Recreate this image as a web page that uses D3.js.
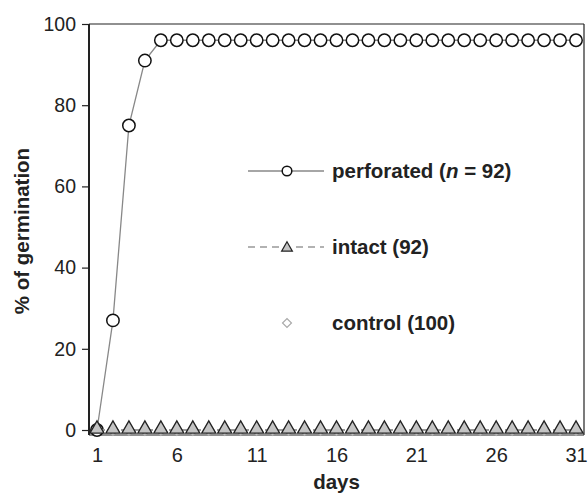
<!DOCTYPE html>
<html>
<head>
<meta charset="utf-8">
<script src="https://cdn.jsdelivr.net/npm/d3@7"></script>
<style>
  body { margin: 0; background: #fff; }
  svg { font-family: "Liberation Sans", Arial, sans-serif; }
</style>
</head>
<body>
<div id="chart"></div>
<script>
// days 1..31
var days = [1, 2, 3, 4, 5, 6, 7, 8, 9, 10, 11, 12, 13, 14, 15, 16,
            17, 18, 19, 20, 21, 22, 23, 24, 25, 26, 27, 28, 29, 30, 31];
var perforated = [0, 27, 75, 91, 96, 96, 96, 96, 96, 96, 96, 96, 96, 96, 96, 96,
                  96, 96, 96, 96, 96, 96, 96, 96, 96, 96, 96, 96, 96, 96, 96];
var intact = [0, 0, 0, 0, 0, 0, 0, 0, 0, 0, 0, 0, 0, 0, 0, 0,
              0, 0, 0, 0, 0, 0, 0, 0, 0, 0, 0, 0, 0, 0, 0];
var control = [0, 0, 0, 0, 0, 0, 0, 0, 0, 0, 0, 0, 0, 0, 0, 0,
               0, 0, 0, 0, 0, 0, 0, 0, 0, 0, 0, 0, 0, 0, 0];
var xTicks = [1, 6, 11, 16, 21, 26, 31];
var yTicks = [0, 20, 40, 60, 80, 100];

(function() {
	var W = 588, H = 493;
	var pl = 89, pr = 584, pt = 24, pb = 435;

	var x = d3.scaleLinear().domain([0.5, 31.5]).range([pl, pr]);
	var y = d3.scaleLinear().domain([-1.23, 100]).range([pb, pt]);

	var svg = d3.select("#chart").append("svg")
		.attr("width", W)
		.attr("height", H);

	// frame: top, right, bottom thin; left axis thicker
	svg.append("line").attr("x1", pl).attr("x2", pr).attr("y1", pt).attr("y2", pt)
		.attr("stroke", "#222").attr("stroke-width", 1.2);
	svg.append("line").attr("x1", pr).attr("x2", pr).attr("y1", pt).attr("y2", pb)
		.attr("stroke", "#222").attr("stroke-width", 1.2);
	svg.append("line").attr("x1", pl).attr("x2", pr).attr("y1", pb).attr("y2", pb)
		.attr("stroke", "#222").attr("stroke-width", 1.2);

	var yAxis = d3.axisLeft(y).tickValues(yTicks).tickSize(7).tickPadding(6);
	var gy = svg.append("g").attr("transform", "translate(" + pl + ",0)").call(yAxis);
	gy.select(".domain").attr("d", "M0," + pt + "V" + pb).attr("stroke", "#222").attr("stroke-width", 2);
	gy.selectAll(".tick line").attr("stroke", "#222").attr("stroke-width", 1.2);
	gy.selectAll(".tick text").attr("font-size", 19.5).attr("fill", "#222")
		.attr("font-family", "Liberation Sans, Arial, sans-serif");

	var xAxis = d3.axisBottom(x).tickValues(xTicks).tickSize(0).tickPadding(13);
	var gx = svg.append("g").attr("transform", "translate(0," + pb + ")").call(xAxis);
	gx.select(".domain").remove();
	gx.selectAll(".tick text").attr("font-size", 20).attr("fill", "#222")
		.attr("font-family", "Liberation Sans, Arial, sans-serif");

	// axis titles
	svg.append("text")
		.attr("x", (pl + pr) / 2).attr("y", 489)
		.attr("text-anchor", "middle").attr("font-size", 20.5).attr("font-weight", "bold").attr("fill", "#222")
		.text("days");
	svg.append("text")
		.attr("transform", "translate(29,231) rotate(-90)")
		.attr("text-anchor", "middle").attr("font-size", 20.5).attr("font-weight", "bold").attr("fill", "#222")
		.text("% of germination");

	var line = d3.line().x(function(d, i) { return x(days[i]); }).y(function(d) { return y(d); });

	var tri = d3.symbol().type(d3.symbolTriangle).size(86);
	var dia = d3.symbol().type(d3.symbolSquare).size(56);

	// control (diamonds, hidden under intact)
	svg.append("g").selectAll("path").data(control).enter().append("path")
		.attr("d", dia)
		.attr("transform", function(d, i) { return "translate(" + x(days[i]) + "," + y(d) + ") rotate(45)"; })
		.attr("fill", "#fff").attr("stroke", "#aaa").attr("stroke-width", 1.2);

	// perforated
	svg.append("path").datum(perforated).attr("d", line)
		.attr("fill", "none").attr("stroke", "#888").attr("stroke-width", 1.3);
	svg.append("g").selectAll("circle").data(perforated).enter().append("circle")
		.attr("cx", function(d, i) { return x(days[i]); })
		.attr("cy", function(d) { return y(d); })
		.attr("r", 6.2)
		.attr("fill", "#fff").attr("stroke", "#111").attr("stroke-width", 1.5);

	// intact
	svg.append("path").datum(intact).attr("d", line)
		.attr("fill", "none").attr("stroke", "#999").attr("stroke-width", 2).attr("stroke-dasharray", "8,4");
	svg.append("g").selectAll("path").data(intact).enter().append("path")
		.attr("d", tri)
		.attr("transform", function(d, i) { return "translate(" + x(days[i]) + "," + (y(d) - 1) + ")"; })
		.attr("fill", "#c4c4c4").attr("stroke", "#222").attr("stroke-width", 1.3);

	// legend
	var lg = svg.append("g");
	var lx1 = 248, lx2 = 324, lmx = 287, ltx = 332;
	lg.append("line").attr("x1", lx1).attr("x2", lx2).attr("y1", 171).attr("y2", 171)
		.attr("stroke", "#888").attr("stroke-width", 1.3);
	lg.append("circle").attr("cx", lmx).attr("cy", 171).attr("r", 4.8)
		.attr("fill", "#fff").attr("stroke", "#111").attr("stroke-width", 1.5);
	var t1 = lg.append("text").attr("x", ltx).attr("y", 178)
		.attr("font-size", 20.5).attr("font-weight", "bold").attr("fill", "#222");
	t1.append("tspan").text("perforated (");
	t1.append("tspan").attr("font-style", "italic").text("n");
	t1.append("tspan").text(" = 92)");

	lg.append("line").attr("x1", lx1).attr("x2", lx2).attr("y1", 247).attr("y2", 247)
		.attr("stroke", "#999").attr("stroke-width", 1.5).attr("stroke-dasharray", "7,5");
	lg.append("rect").attr("x", lmx - 8).attr("y", 240).attr("width", 16).attr("height", 14).attr("fill", "#fff");
	lg.append("path").attr("d", d3.symbol().type(d3.symbolTriangle).size(50))
		.attr("transform", "translate(" + lmx + ",248)")
		.attr("fill", "#c4c4c4").attr("stroke", "#222").attr("stroke-width", 1.2);
	lg.append("text").attr("x", ltx).attr("y", 254)
		.attr("font-size", 20.5).attr("font-weight", "bold").attr("fill", "#222")
		.text("intact (92)");

	lg.append("path").attr("d", d3.symbol().type(d3.symbolSquare).size(40))
		.attr("transform", "translate(" + lmx + ",323) rotate(45)")
		.attr("fill", "#fff").attr("stroke", "#aaa").attr("stroke-width", 1.2);
	lg.append("text").attr("x", ltx).attr("y", 330)
		.attr("font-size", 20.5).attr("font-weight", "bold").attr("fill", "#222")
		.text("control (100)");
})();
</script>
</body>
</html>
